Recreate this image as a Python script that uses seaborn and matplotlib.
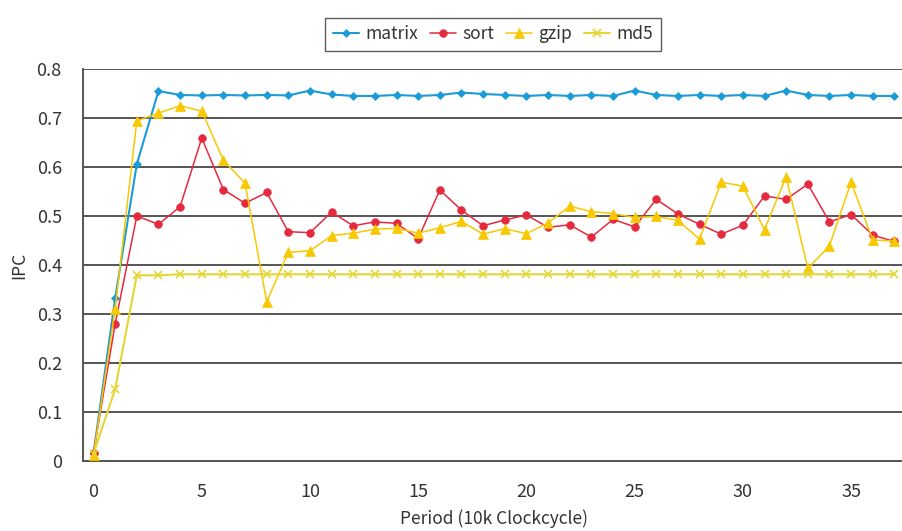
import numpy as np
import pandas as pd
import matplotlib
matplotlib.use("Agg")
import matplotlib.pyplot as plt
from matplotlib.ticker import FixedLocator
import seaborn as sns

period = list(range(38))

matrix = [0.015, 0.332, 0.606, 0.755, 0.747, 0.746, 0.747, 0.746, 0.747, 0.746,
          0.756, 0.748, 0.745, 0.745, 0.747, 0.745, 0.747, 0.752, 0.749, 0.747,
          0.745, 0.747, 0.745, 0.747, 0.745, 0.756, 0.747, 0.745, 0.747, 0.745,
          0.747, 0.745, 0.756, 0.747, 0.745, 0.747, 0.745, 0.745]
sort = [0.017, 0.28, 0.50, 0.483, 0.519, 0.659, 0.554, 0.526, 0.548, 0.468,
        0.466, 0.508, 0.48, 0.488, 0.485, 0.454, 0.553, 0.512, 0.48, 0.492,
        0.502, 0.477, 0.482, 0.457, 0.493, 0.478, 0.534, 0.504, 0.483, 0.463,
        0.481, 0.541, 0.534, 0.565, 0.488, 0.503, 0.461, 0.448]
gzip = [0.012, 0.31, 0.694, 0.71, 0.725, 0.714, 0.614, 0.567, 0.325, 0.426,
        0.429, 0.46, 0.465, 0.473, 0.475, 0.465, 0.476, 0.489, 0.463, 0.474,
        0.464, 0.486, 0.52, 0.509, 0.505, 0.497, 0.499, 0.491, 0.453, 0.569,
        0.561, 0.472, 0.58, 0.393, 0.439, 0.569, 0.451, 0.449]
md5 = [0.015, 0.147, 0.379, 0.379, 0.381, 0.381, 0.381, 0.381, 0.381, 0.381,
       0.381, 0.381, 0.381, 0.381, 0.381, 0.381, 0.381, 0.381, 0.381, 0.381,
       0.381, 0.381, 0.381, 0.381, 0.381, 0.381, 0.381, 0.381, 0.381, 0.381,
       0.381, 0.381, 0.381, 0.381, 0.381, 0.381, 0.381, 0.381]

series = ["matrix", "sort", "gzip", "md5"]
yticks = [0.0, 0.1, 0.2, 0.3, 0.4, 0.5, 0.6, 0.7, 0.8]
ytick_labels = ["0", "0.1", "0.2", "0.3", "0.4", "0.5", "0.6", "0.7", "0.8"]
xticks = [0, 5, 10, 15, 20, 25, 30, 35]

colors = {"matrix": "#1b9bd8", "sort": "#e52a3f", "gzip": "#f8c800", "md5": "#e4d634"}
markers = {"matrix": "D", "sort": "o", "gzip": "^", "md5": "x"}
msizes = {"matrix": 4.5, "sort": 5.5, "gzip": 6.5, "md5": 5.5}
widths = {"matrix": 1.5, "sort": 1.1, "gzip": 1.1, "md5": 1.5}

sns.set_style("white")
plt.rcParams["font.family"] = ["Noto Sans CJK JP", "DejaVu Sans"]
text_col = "#333333"

fig = plt.figure(figsize=(9.03, 5.31), dpi=100)
ax = fig.add_axes([82.7 / 903, 1 - 461 / 531, 822.5 / 903, 392 / 531])

for name, vals in zip(series, [matrix, sort, gzip, md5]):
    sns.lineplot(x=period, y=vals, ax=ax, color=colors[name], marker=markers[name],
                 markersize=msizes[name], markeredgecolor=colors[name],
                 markeredgewidth=1.2 if name == "md5" else 0.5,
                 linewidth=widths[name], label=name, clip_on=False, zorder=3)

ax.set_xlim(-0.5, 37.5)
ax.set_ylim(0, 0.8)
ax.set_yticks(yticks, ytick_labels)
ax.set_xticks(xticks)
ax.xaxis.set_minor_locator(FixedLocator(np.arange(0.5, 37.5, 1.0)))
ax.tick_params(axis="x", which="major", length=0, pad=16, labelsize=13, labelcolor=text_col)
ax.tick_params(axis="x", which="minor", direction="in", length=6, width=1, color="#555555")
ax.tick_params(axis="y", length=0, pad=15, labelsize=13, labelcolor=text_col)
ax.grid(axis="y", color="#555555", linewidth=1.4)
ax.set_axisbelow(True)
for side in ["top", "right"]:
    ax.spines[side].set_visible(False)
for side in ["left", "bottom"]:
    ax.spines[side].set_color("#555555")
    ax.spines[side].set_linewidth(1.4)

ax.set_xlabel("Period (10k Clockcycle)", fontsize=12.5, color=text_col, labelpad=6)
ax.set_ylabel("IPC", fontsize=12.5, color=text_col, labelpad=6)

ax.get_legend().remove()
handles, labels = ax.get_legend_handles_labels()
leg = fig.legend(handles, labels, loc="upper center", ncol=4,
                 bbox_to_anchor=(493 / 903, 1 - 9 / 531), frameon=True, fancybox=False,
                 fontsize=12.5, handlelength=1.5, handletextpad=0.35, columnspacing=0.7,
                 borderpad=0.45, edgecolor="#333333")
leg.get_frame().set_linewidth(1.0)
for t in leg.get_texts():
    t.set_color(text_col)

fig.savefig("out.png", dpi=100)
